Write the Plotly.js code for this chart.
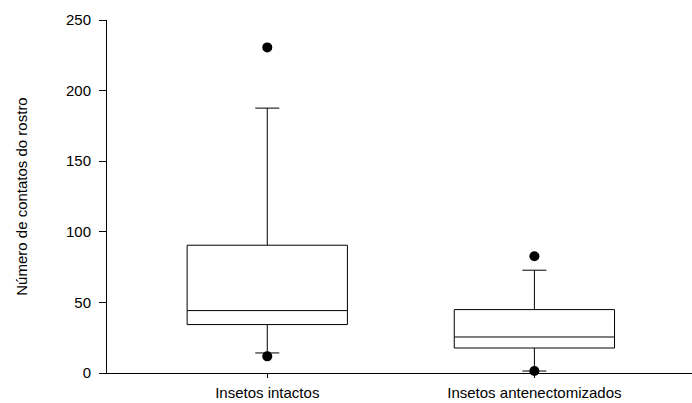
<!DOCTYPE html>
<html>
<head>
<meta charset="utf-8">
<script src="https://cdn.plot.ly/plotly-3.0.1.min.js"></script>
<style>html,body{margin:0;padding:0;background:#fff;}#chart{width:692px;height:403px;}</style>
</head>
<body>
<div id="chart"></div>
<script>
var categories = ["Insetos intactos", "Insetos antenectomizados"];
var lowerWhisker = [14.2, 1.4];
var q1Values = [34.3, 17.7];
var medianValues = [44.2, 25.5];
var q3Values = [90.5, 44.9];
var upperWhisker = [187.6, 72.8];
var outlierCats = ["Insetos intactos", "Insetos intactos", "Insetos antenectomizados", "Insetos antenectomizados"];
var outlierValues = [230.6, 11.8, 82.7, 1.4];
var yTicks = [0, 50, 100, 150, 200, 250];

var box = {
  type: 'box',
  x: categories,
  q1: q1Values,
  median: medianValues,
  q3: q3Values,
  lowerfence: lowerWhisker,
  upperfence: upperWhisker,
  width: 0.6,
  whiskerwidth: 0.15,
  fillcolor: '#ffffff',
  line: {color: '#000000', width: 1},
  boxpoints: false,
  hoverinfo: 'skip'
};
var outliers = {
  type: 'scatter',
  mode: 'markers',
  x: outlierCats,
  y: outlierValues,
  marker: {color: '#000000', size: 10},
  cliponaxis: false,
  hoverinfo: 'skip'
};
var font = 'Arial, "Liberation Sans", sans-serif';
var layout = {
  width: 692, height: 403,
  margin: {l: 107, r: 0, t: 20, b: 30},
  showlegend: false,
  paper_bgcolor: '#ffffff',
  plot_bgcolor: '#ffffff',
  font: {family: font, color: '#000000'},
  xaxis: {
    type: 'category',
    range: [-0.6, 1.59],
    showline: true, linecolor: '#000000', linewidth: 1,
    ticks: 'outside', ticklen: 4, tickcolor: '#000000',
    showgrid: false, zeroline: false,
    tickfont: {size: 15, family: font},
    ticklabelstandoff: 2
  },
  yaxis: {
    range: [0, 250],
    tickvals: yTicks,
    ticktext: yTicks.map(String),
    showline: true, linecolor: '#000000', linewidth: 1,
    ticks: 'outside', ticklen: 7, tickcolor: '#000000',
    showgrid: false, zeroline: false,
    tickfont: {size: 15, family: font},
    ticklabelstandoff: 5,
    title: {text: 'Número de contatos do rostro', font: {size: 15, family: font}, standoff: 34}
  }
};
Plotly.newPlot('chart', [box, outliers], layout, {staticPlot: true});
</script>
</body>
</html>
